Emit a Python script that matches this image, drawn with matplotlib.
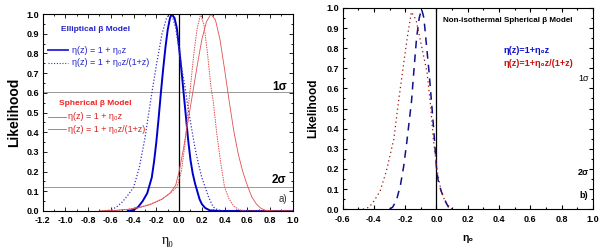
import matplotlib
matplotlib.use('Agg')
import matplotlib.pyplot as plt
from matplotlib.ticker import MultipleLocator

plt.rcParams['font.family'] = ['Liberation Sans', 'DejaVu Sans']

# panel a) - isothermal models, likelihood vs eta0 (values read from the figure)
ell_lin_x = [-0.45, -0.40, -0.36, -0.32, -0.28, -0.24, -0.22, -0.20, -0.18, -0.16, -0.14, -0.12,
             -0.10, -0.08, -0.065, -0.04, -0.02, 0.0, 0.02, 0.04, 0.06, 0.08, 0.10, 0.12, 0.14,
             0.16, 0.18, 0.20, 0.23, 0.27, 0.35, 1.0]
ell_lin_y = [0.0, 0.005, 0.02, 0.05, 0.09, 0.17, 0.25, 0.35, 0.47, 0.60, 0.72, 0.83,
             0.92, 0.98, 1.0, 0.98, 0.93, 0.83, 0.72, 0.60, 0.48, 0.36, 0.26, 0.19, 0.14,
             0.10, 0.06, 0.035, 0.015, 0.003, 0.0, 0.0]

ell_frac_x = [-0.65, -0.60, -0.55, -0.50, -0.45, -0.40, -0.35, -0.30, -0.25, -0.20, -0.15, -0.11,
              -0.085, -0.06, -0.03, 0.0, 0.03, 0.05, 0.08, 0.11, 0.14, 0.17, 0.20, 0.23, 0.26,
              0.30, 0.34, 0.40, 1.0]
ell_frac_y = [0.0, 0.005, 0.02, 0.045, 0.08, 0.12, 0.22, 0.37, 0.56, 0.74, 0.90, 0.98,
              1.0, 0.99, 0.93, 0.82, 0.70, 0.64, 0.52, 0.42, 0.32, 0.24, 0.17, 0.12, 0.07,
              0.02, 0.005, 0.0, 0.0]

sph_lin_x = [-0.70, -0.55, -0.45, -0.35, -0.25, -0.15, -0.08, -0.03, 0.0, 0.04, 0.08, 0.12,
             0.16, 0.20, 0.24, 0.28, 0.32, 0.36, 0.40, 0.44, 0.48, 0.52, 0.56, 0.60, 0.64,
             0.68, 0.72, 0.76, 0.85, 1.0]
sph_lin_y = [0.0, 0.003, 0.008, 0.017, 0.033, 0.06, 0.09, 0.13, 0.20, 0.32, 0.46, 0.60,
             0.74, 0.87, 0.96, 1.0, 0.97, 0.87, 0.72, 0.56, 0.41, 0.29, 0.20, 0.13, 0.07,
             0.035, 0.013, 0.003, 0.0, 0.0]

sph_frac_x = [-0.70, -0.55, -0.45, -0.35, -0.25, -0.15, -0.08, -0.02, 0.02, 0.05, 0.08, 0.10,
              0.13, 0.16, 0.19, 0.22, 0.25, 0.28, 0.30, 0.33, 0.36, 0.40, 0.44, 0.48, 0.53,
              0.60, 1.0]
sph_frac_y = [0.0, 0.003, 0.008, 0.018, 0.035, 0.06, 0.09, 0.12, 0.20, 0.33, 0.52, 0.63,
              0.80, 0.93, 1.0, 0.94, 0.80, 0.63, 0.56, 0.40, 0.27, 0.12, 0.06, 0.025, 0.005,
              0.0, 0.0]

sigma_levels = [0.606, 0.12]

# panel b) - non-isothermal spherical model
nonis_lin_x = [-0.30, -0.28, -0.255, -0.23, -0.21, -0.19, -0.16, -0.145, -0.127, -0.11, -0.095,
               -0.08, -0.068, -0.047, -0.03, -0.015, 0.0, 0.01, 0.03, 0.054, 0.07, 0.085]
nonis_lin_y = [0.0, 0.01, 0.046, 0.12, 0.21, 0.33, 0.53, 0.68, 0.85, 0.95, 0.995,
               0.95, 0.85, 0.68, 0.52, 0.37, 0.21, 0.146, 0.09, 0.046, 0.02, 0.0]

nonis_frac_x = [-0.47, -0.43, -0.40, -0.36, -0.32, -0.272, -0.245, -0.217, -0.187, -0.16, -0.13,
                -0.106, -0.06, -0.038, -0.02, 0.005, 0.03, 0.06, 0.10]
nonis_frac_y = [0.0, 0.01, 0.04, 0.09, 0.19, 0.35, 0.52, 0.68, 0.85, 0.98, 0.94,
                0.85, 0.68, 0.52, 0.35, 0.19, 0.09, 0.03, 0.0]

fig = plt.figure(figsize=(6.0, 2.47), dpi=100)
ax1 = fig.add_axes([0.071, 0.146, 0.417, 0.797])
ax2 = fig.add_axes([0.571, 0.153, 0.417, 0.815])


def style_axes(ax, xlo, tick_width):
    ax.set_xlim(xlo, 1.0)
    ax.set_ylim(0, 1.0)
    ax.xaxis.set_major_locator(MultipleLocator(0.2))
    ax.xaxis.set_minor_locator(MultipleLocator(0.1))
    ax.yaxis.set_major_locator(MultipleLocator(0.1))
    ax.yaxis.set_minor_locator(MultipleLocator(0.05))
    ax.xaxis.set_major_formatter(lambda v, p: f'{v:.1f}')
    ax.yaxis.set_major_formatter(lambda v, p: f'{v:.1f}')
    ax.tick_params(which='both', direction='in', top=True, right=True, width=tick_width)
    ax.tick_params(which='major', length=3)
    ax.tick_params(which='minor', length=1.5)
    ax.tick_params(axis='x', pad=4)
    ax.tick_params(axis='y', pad=2.5)
    for lab in ax.get_xticklabels() + ax.get_yticklabels():
        lab.set_fontsize(6.5)
        lab.set_fontweight('bold')


# ---- left panel
for y in sigma_levels:
    ax1.axhline(y, color='#999999', lw=0.7, zorder=1)
ax1.axvline(0.0, color='black', lw=0.9, zorder=1)
ax1.plot(ell_lin_x, ell_lin_y, color='#0000cc', lw=1.4)
ax1.plot(ell_frac_x, ell_frac_y, color='#3333cc', lw=0.9, ls=(0, (1, 1.5)))
ax1.plot(sph_lin_x, sph_lin_y, color='#e05050', lw=0.6)
ax1.plot(sph_frac_x, sph_frac_y, color='#e05050', lw=0.7, ls=(0, (1.5, 1)))

style_axes(ax1, -1.2, 0.6)
ax1.set_ylabel('Likelihood', fontsize=10, fontweight='bold', labelpad=4)
ax1.set_xlabel('η₀', fontsize=10, family=['Liberation Serif', 'DejaVu Serif'], labelpad=6)

ax1.text(-1.034, 0.922, 'Elliptical β Model', color='#2222cc', fontsize=6, fontweight='bold', va='center')
ax1.plot([-1.15, -0.98], [0.817, 0.817], color='#3333dd', lw=1.4)
ax1.text(-0.945, 0.817, 'η(z) = 1 + η₀z', color='#2222cc', fontsize=6.5, va='center')
ax1.plot([-1.15, -0.98], [0.753, 0.753], color='#3333dd', lw=0.8, ls=(0, (1, 1.5)))
ax1.text(-0.945, 0.753, 'η(z) = 1 + η₀z/(1+z)', color='#2222cc', fontsize=6.5, va='center')

ax1.text(-1.054, 0.547, 'Spherical β Model', color='#ee2222', fontsize=6, fontweight='bold', va='center')
ax1.plot([-1.15, -0.99], [0.479, 0.479], color='#e05050', lw=0.6)
ax1.text(-0.98, 0.479, 'η(z) = 1 + η₀z', color='#dd2222', fontsize=6.5, va='center')
ax1.plot([-1.15, -0.99], [0.415, 0.415], color='#e05050', lw=0.6)
ax1.text(-0.98, 0.415, 'η(z) = 1 + η₀z/(1+z)', color='#dd2222', fontsize=6.5, va='center')

ax1.text(0.88, 0.63, '1σ', fontsize=8.5, fontweight='bold', ha='center', va='center')
ax1.text(0.88, 0.155, '2σ', fontsize=8.5, fontweight='bold', ha='center', va='center')
ax1.text(0.91, 0.06, 'a)', fontsize=7, ha='center', va='center', color='#333333')

# ---- right panel
ax2.axvline(0.0, color='black', lw=0.9, zorder=1)
ax2.plot(nonis_lin_x, nonis_lin_y, color='#10108a', lw=1.1, ls=(0, (5, 4)))
ax2.plot(nonis_frac_x, nonis_frac_y, color='#a01010', lw=0.9, ls=(0, (1, 2.5)))

style_axes(ax2, -0.6, 0.8)
ax2.set_ylabel('Likelihood', fontsize=8.5, fontweight='bold', labelpad=5)
ax2.set_xlabel('η₀', fontsize=7.5, fontweight='bold', labelpad=7)

ax2.text(0.043, 0.936, 'Non-isothermal Spherical β Model', fontsize=5.8, fontweight='bold', va='center')
ax2.text(0.427, 0.79, 'η(z)=1+η₀z', color='#1010cc', fontsize=6.5, fontweight='bold', va='center')
ax2.text(0.427, 0.725, 'η(z)=1+η₀z/(1+z)', color='#cc1010', fontsize=6.5, fontweight='bold', va='center')
ax2.text(0.94, 0.65, '1σ', fontsize=6.5, ha='center', va='center')
ax2.text(0.94, 0.18, '2σ', fontsize=6.5, fontweight='bold', ha='center', va='center')
ax2.text(0.94, 0.07, 'b)', fontsize=6.5, fontweight='bold', ha='center', va='center')

fig.savefig('out.png', dpi=100)
